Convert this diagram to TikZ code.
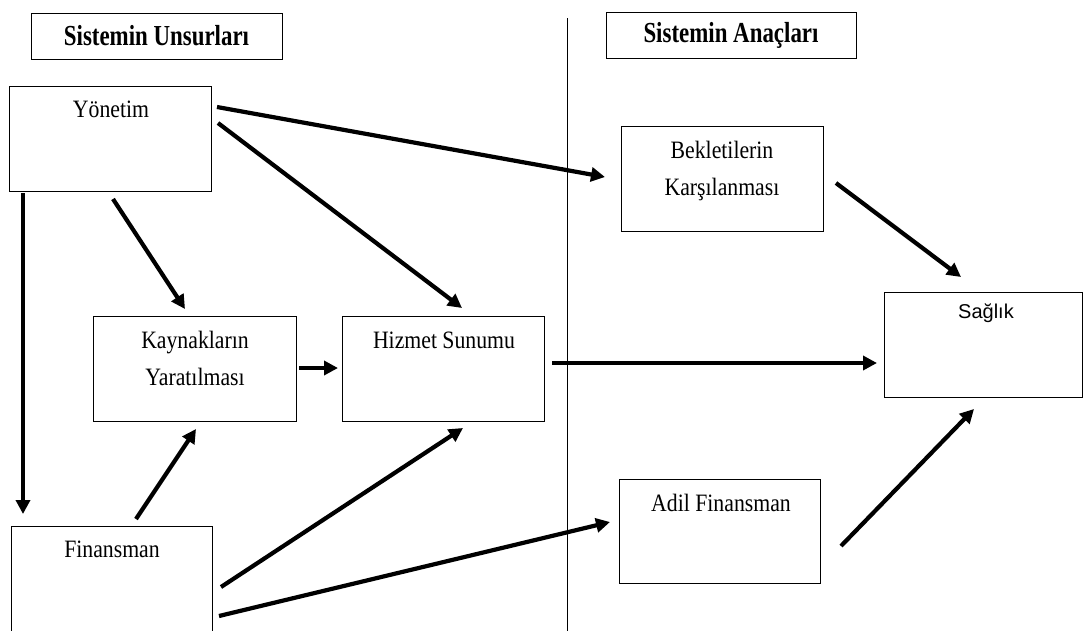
\documentclass[tikz,border=0pt]{standalone}
\usepackage{fontspec}
\setmainfont{Liberation Serif}
\newfontfamily\bodyf[FakeStretch=0.87]{Liberation Serif}
\newfontfamily\hdrf[FakeStretch=0.79]{Liberation Serif}
\newfontfamily\sansf{Liberation Sans}
\usetikzlibrary{arrows.meta}
\begin{document}
\begin{tikzpicture}[x=1pt,y=-1pt,
  box/.style={draw, line width=1pt, inner sep=0pt, outer sep=0pt, anchor=north west},
  hdrbox/.style={box, font=\hdrf\bfseries\fontsize{29}{32}\selectfont},
  txt/.style={inner sep=0pt, outer sep=0pt, align=center, font=\bodyf\fontsize{25}{37}\selectfont},
  arr/.style={line width=4.2pt, -{Triangle[length=14pt,width=14pt]}},
  divider/.style={line width=1pt}]
\useasboundingbox (0,0) rectangle (1084,630);
\clip (0,0) rectangle (1084,630);
\fill[white] (0,0) rectangle (1084,630);

% headers
\node[hdrbox, minimum width=251pt, minimum height=46pt] (h1) at (31,13) {Sistemin Unsurları};
\node[hdrbox, minimum width=250pt, minimum height=46pt] (h2) at (606,12) {Sistemin Anaçları};

% divider
\coordinate (dtop) at (567,18);
\coordinate (dbot) at (567,632);
\draw[divider] (dtop) -- (dbot);

% boxes
\node[box, minimum width=202pt, minimum height=105pt] (yon) at (9,86) {};
\node[box, minimum width=202pt, minimum height=105pt] (bek) at (621,126) {};
\node[box, minimum width=198pt, minimum height=105pt] (sag) at (884,292) {};
\node[box, minimum width=203pt, minimum height=105pt] (kay) at (93,316) {};
\node[box, minimum width=202pt, minimum height=105pt] (hiz) at (342,316) {};
\node[box, minimum width=201pt, minimum height=120pt] (fin) at (11,526) {};
\node[box, minimum width=201pt, minimum height=104pt] (adil) at (619,479) {};

% texts
\node[txt, anchor=base] (yont) at (111,117) {Yönetim};
\node[txt] (bekt) at (722,171) {Bekletilerin\\Karşılanması};
\node[txt] (kayt) at (195,358.5) {Kaynakların\\Yaratılması};
\node[txt, anchor=base] (hizt) at (444,348) {Hizmet Sunumu};
\node[txt, anchor=base] (fint) at (112,557) {Finansman};
\node[txt, anchor=base] (adilt) at (721,511) {Adil Finansman};
\node[inner sep=0pt, anchor=base, font=\sansf\fontsize{20}{24}\selectfont] (sagt) at (986,318) {Sağlık};

% arrows
\draw[arr] ([shift={(6,21)}]yon.north east) -- ([shift={(-16,-1.5)}]bek.west);
\draw[arr] ([shift={(7,37)}]yon.north east) -- ([shift={(19,-8)}]hiz.north);
\draw[arr] ([shift={(3,8)}]yon.south) -- ([shift={(-9.5,-7)}]kay.north);
\draw[arr] ([shift={(14,2)}]yon.south west) -- ([shift={(12,-12)}]fin.north west);
\draw[arr] ([shift={(24.5,-7)}]fin.north) -- ([shift={(1.5,8)}]kay.south);
\draw[arr] ([shift={(9,61)}]fin.north east) -- ([shift={(20,7)}]hiz.south);
\draw[arr] ([shift={(7,90)}]fin.north east) -- ([shift={(-9,-9)}]adil.west);
\draw[arr] ([shift={(3,-0.5)}]kay.east) -- ([shift={(-4,-0.5)}]hiz.west);
\draw[arr] ([shift={(8,-5.5)}]hiz.east) -- ([shift={(-7,18.5)}]sag.west);
\draw[arr] ([shift={(13,4.5)}]bek.east) -- ([shift={(-22,-15)}]sag.north);
\draw[arr] ([shift={(21,15)}]adil.east) -- ([shift={(-9,12)}]sag.south);
\end{tikzpicture}
\end{document}
